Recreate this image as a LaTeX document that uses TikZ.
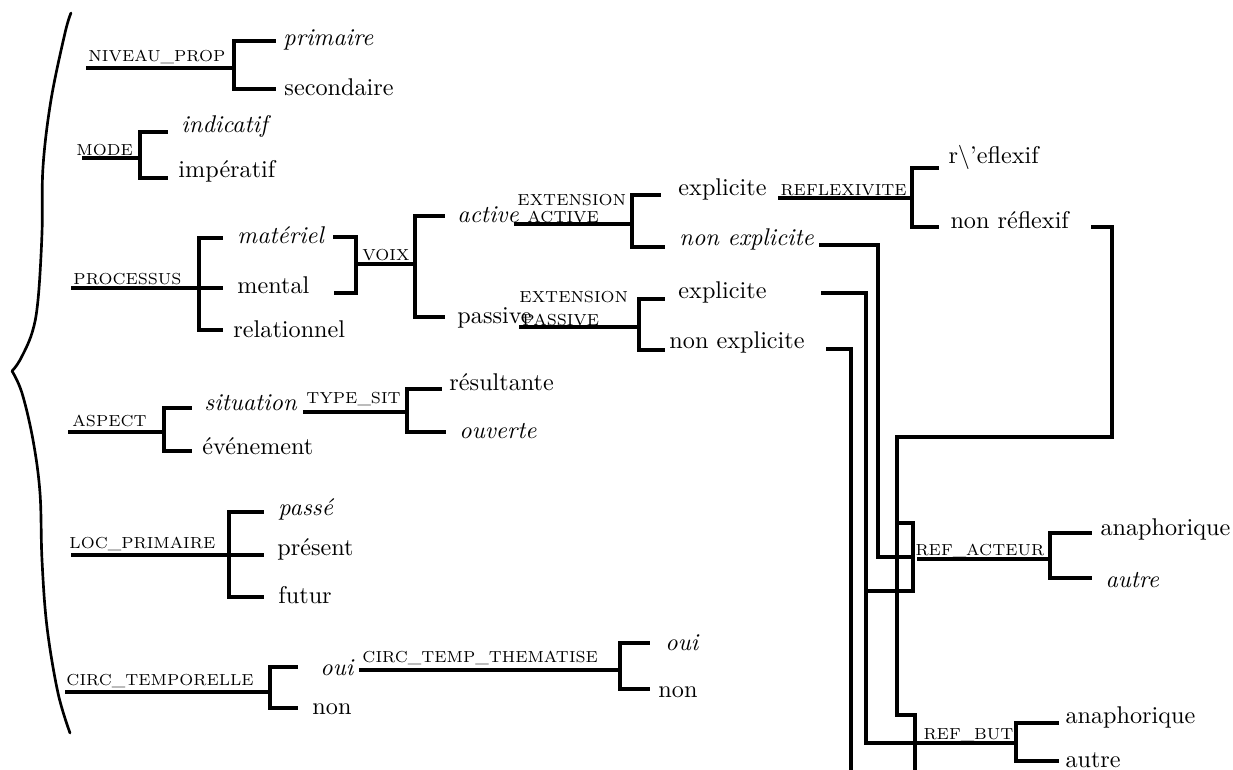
\documentclass[tikz,border=0pt]{standalone}
\usepackage{fontspec}
\begin{document}
\begin{tikzpicture}[x=0.4133pt,y=-0.4133pt,
  tx/.style={inner sep=0pt,anchor=base west,font=\fontsize{10}{12}\selectfont},
  itx/.style={tx,font=\fontsize{10}{12}\selectfont\itshape},
  lab/.style={inner sep=0pt,anchor=base west,font=\fontsize{6.6}{7}\selectfont\addfontfeatures{LetterSpace=13}},
  ln/.style={line width=1.3pt,line join=miter,line cap=rect},
  brace/.style={line width=1.1pt,line cap=round}]
\useasboundingbox (0,0) rectangle (1233,769);

% big brace
\draw[brace] plot[smooth,tension=0.6] coordinates {(71,13) (65,33) (51,100) (43,167) (42,233) (38,300) (32,333) (20,360) (12,371)};
\draw[brace] plot[smooth,tension=0.6] coordinates {(12,371) (22,393) (33,440) (40,493) (42,560) (47,627) (58,693) (70,733)};

% ---------- texts ----------
\node[lab] (lNP) at (88,61) {NIVEAU\_PROP};
\node[itx] (tprim) at (283,45) {primaire};
\node[tx] (tsec) at (284,95) {secondaire};
\node[lab] (lMODE) at (76,155) {MODE};
\node[itx] (tind) at (181,132) {indicatif};
\node[tx] (timp) at (178,177) {impératif};
\node[lab] (lPROC) at (73,284) {PROCESSUS};
\node[itx] (tmat) at (237,243) {matériel};
\node[tx] (tmen) at (237,293) {mental};
\node[tx] (trel) at (233,337) {relationnel};
\node[lab] (lVOIX) at (362,260) {VOIX};
\node[itx] (tact) at (457,222) {active};
\node[tx] (tpas) at (457,323) {passive};
\node[lab] (lEA1) at (517,205) {EXTENSION};
\node[lab] (lEA2) at (527,222) {ACTIVE};
\node[tx] (tex1) at (678,195) {explicite};
\node[itx] (tnex1) at (679,245) {non explicite};
\node[lab] (lEP1) at (519,302) {EXTENSION};
\node[lab] (lEP2) at (522,325) {PASSIVE};
\node[tx] (tex2) at (678,298) {explicite};
\node[tx] (tnex2) at (669,348) {non explicite};
\node[lab] (lREF) at (780,195) {REFLEXIVITE};
\node[tx] (trefl) at (948,163) {r$\backslash$'eflexif};
\node[tx] (tnrefl) at (950,228) {non réflexif};
\node[lab] (lRA) at (915,555) {REF\_ACTEUR};
\node[tx] (tana1) at (1100,535) {anaphorique};
\node[itx] (taut1) at (1105,587) {autre};
\node[lab] (lRB) at (923,739) {REF\_BUT};
\node[tx] (tana2) at (1065,723) {anaphorique};
\node[tx] (taut2) at (1065,767) {autre};
\node[lab] (lASP) at (72,426) {ASPECT};
\node[itx] (tsit) at (204,410) {situation};
\node[tx] (tevt) at (202,454) {événement};
\node[lab] (lTS) at (306,403) {TYPE\_SIT};
\node[tx] (tres) at (449,390) {résultante};
\node[itx] (touv) at (459,438) {ouverte};
\node[lab] (lLOC) at (69,548) {LOC\_PRIMAIRE};
\node[itx] (tpasse) at (278,515) {passé};
\node[tx] (tpres) at (277,555) {présent};
\node[tx] (tfut) at (278,603) {futur};
\node[lab] (lCT) at (66,685) {CIRC\_TEMPORELLE};
\node[itx] (toui1) at (320,675) {oui};
\node[tx] (tnon1) at (312,714) {non};
\node[lab] (lCTT) at (362,662) {CIRC\_TEMP\_THEMATISE};
\node[itx] (toui2) at (665,650) {oui};
\node[tx] (tnon2) at (658,697) {non};

% ---------- brackets ----------
% NIVEAU_PROP
\draw[ln] (88,68) -- (234,68);
\draw[ln] (274,41) -- (234,41) -- (234,89) -- (274,89);
% MODE
\draw[ln] (84,158) -- (140,158);
\draw[ln] (166,132) -- (140,132) -- (140,178) -- (166,178);
% PROCESSUS
\draw[ln] (73,288) -- (221,288);
\draw[ln] (221,238) -- (199,238) -- (199,330) -- (221,330);
% VOIX
\draw[ln] (335,237) -- (356,237) -- (356,293) -- (336,293);
\draw[ln] (356,264) -- (415,264);
\draw[ln] (443,216) -- (415,216) -- (415,317) -- (443,317);
% EXTENSION ACTIVE
\draw[ln] (516,224) -- (632,224);
\draw[ln] (659,195) -- (632,195) -- (632,247) -- (663,247);
% EXTENSION PASSIVE
\draw[ln] (521,327) -- (639,327);
\draw[ln] (663,299) -- (639,299) -- (639,350) -- (663,350);
% REFLEXIVITE
\draw[ln] (780,198) -- (912,198);
\draw[ln] (937,168) -- (912,168) -- (912,227) -- (937,227);
% long connectors
\draw[ln] (1093,227) -- (1112,227) -- (1112,437) -- (897,437) -- (897,715) -- (915,715) -- (915,772);
\draw[ln] (897,523) -- (913,523) -- (913,591);
\draw[ln] (821,245) -- (878,245) -- (878,557) -- (913,557);
\draw[ln] (823,293) -- (866,293) -- (866,591) -- (911,591);
\draw[ln] (866,594) -- (866,743) -- (1016,743);
\draw[ln] (828,349) -- (851,349) -- (851,772);
% REF_ACTEUR
\draw[ln] (919,559) -- (1050,559);
\draw[ln] (1090,533) -- (1050,533) -- (1050,578) -- (1090,578);
% REF_BUT
\draw[ln] (1057,723) -- (1016,723) -- (1016,761) -- (1057,761);
% ASPECT
\draw[ln] (70,432) -- (164,432);
\draw[ln] (190,408) -- (164,408) -- (164,451) -- (190,451);
% TYPE_SIT
\draw[ln] (305,412) -- (407,412);
\draw[ln] (440,389) -- (407,389) -- (407,432) -- (444,432);
% LOC_PRIMAIRE
\draw[ln] (73,555) -- (262,555);
\draw[ln] (262,512) -- (229,512) -- (229,597) -- (262,597);
% CIRC_TEMPORELLE
\draw[ln] (67,692) -- (270,692);
\draw[ln] (296,667) -- (270,667) -- (270,708) -- (296,708);
% CIRC_TEMP_THEMATISE
\draw[ln] (361,670) -- (620,670);
\draw[ln] (648,643) -- (620,643) -- (620,689) -- (648,689);
\end{tikzpicture}
\end{document}
